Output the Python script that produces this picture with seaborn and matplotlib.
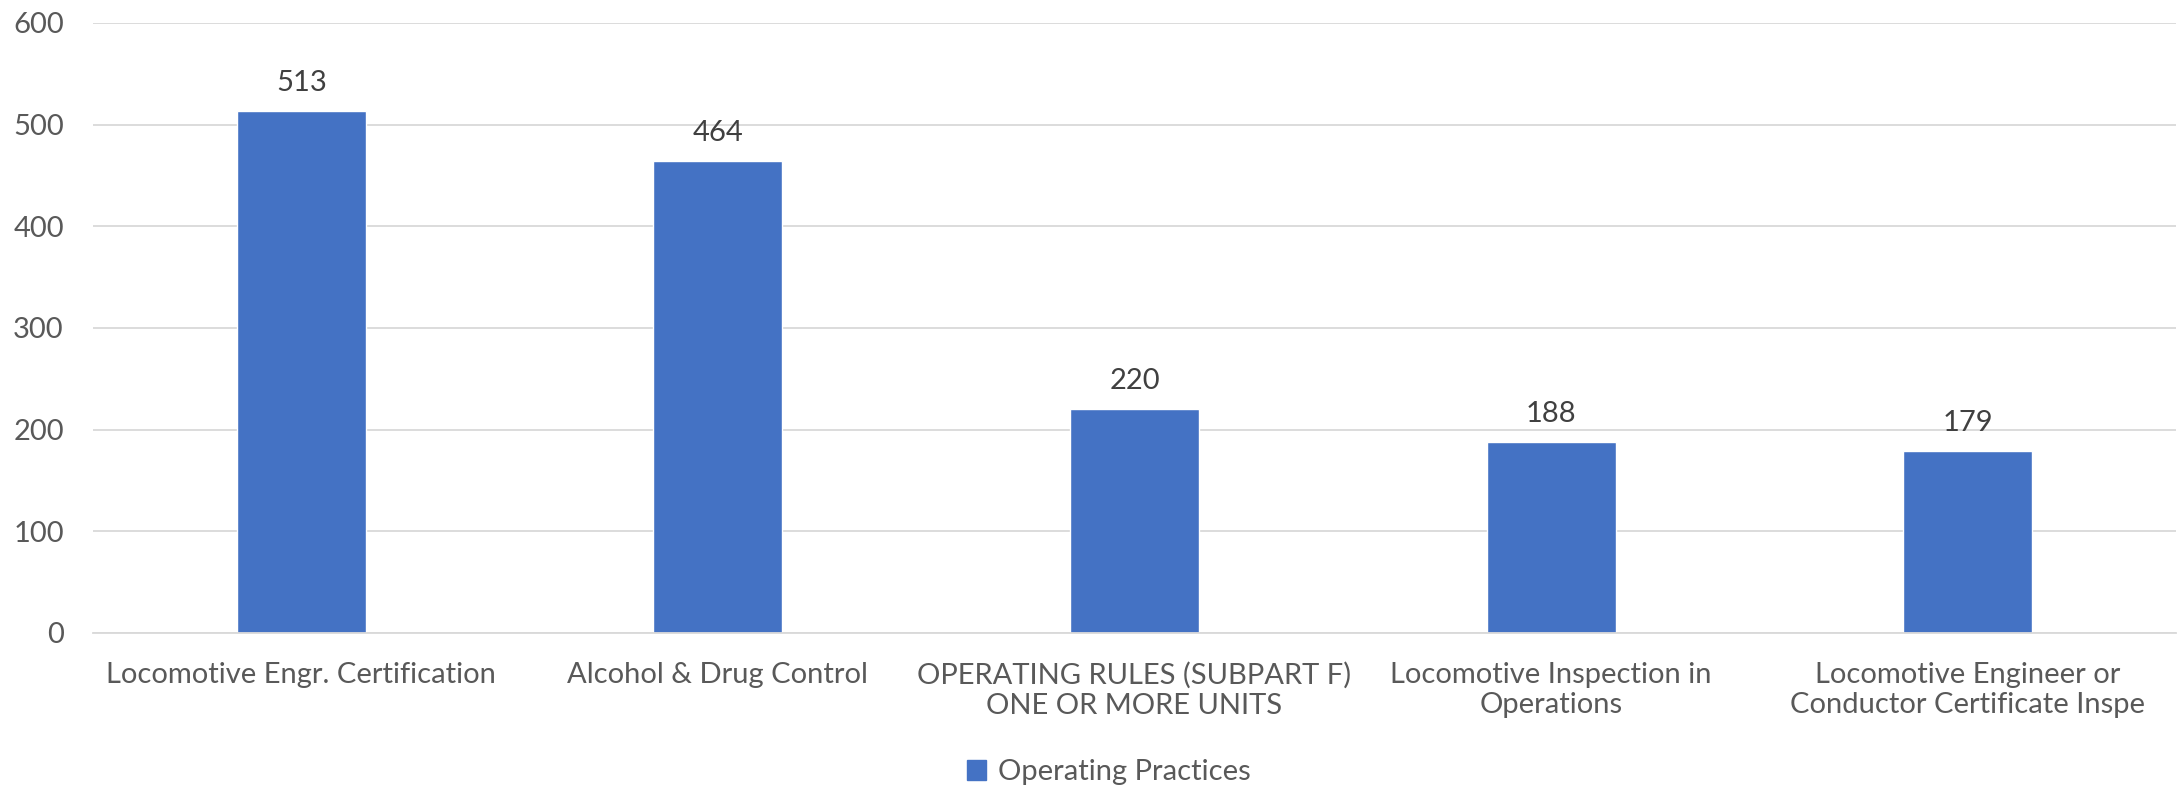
import matplotlib.pyplot as plt
import seaborn as sns
import pandas as pd

# values
categories = ['Locomotive Engr. Certification',
              'Alcohol & Drug Control',
              'OPERATING RULES (SUBPART F)\nONE OR MORE UNITS',
              'Locomotive Inspection in\nOperations',
              'Locomotive Engineer or\nConductor Certificate Inspe']
counts = [513, 464, 220, 188, 179]
series_name = 'Operating Practices'
y_ticks = [0, 100, 200, 300, 400, 500, 600]

df = pd.DataFrame({'Category': categories, 'Count': counts})

sns.set_theme(style='white')
plt.rcParams['font.family'] = ['Lato', 'DejaVu Sans']

bar_color = '#4472C4'
text_gray = '#595959'

fig = plt.figure(figsize=(21.83, 7.92), dpi=100)
ax = fig.add_axes([0.0426, 0.2008, 0.9542, 0.7702])

sns.barplot(x='Category', y='Count', data=df, color=bar_color, width=0.31,
            saturation=1, ax=ax, label=series_name)

ax.set_ylim(0, 600)
ax.set_yticks(y_ticks)
ax.set_xlim(-0.5, len(categories) - 0.5)
ax.yaxis.grid(True, color='#D9D9D9', linewidth=1.3)
ax.set_axisbelow(True)
for side in ['top', 'right', 'left']:
    ax.spines[side].set_visible(False)
ax.spines['bottom'].set_color('#D9D9D9')
ax.spines['bottom'].set_linewidth(1.3)

ax.set_xlabel('')
ax.set_ylabel('')
ax.tick_params(axis='y', length=0, pad=21, labelsize=21, labelcolor=text_gray)
ax.tick_params(axis='x', length=0, pad=21, labelsize=21, labelcolor=text_gray)

# value labels above each bar
ax.bar_label(ax.containers[0], labels=[str(v) for v in counts], padding=11,
             fontsize=21, color='#404040')

if ax.get_legend() is not None:
    ax.get_legend().remove()
handles = [plt.Rectangle((0, 0), 1, 1, color=bar_color)]
fig.legend(handles, [series_name], loc='center', bbox_to_anchor=(0.508, 0.025),
           frameon=False, fontsize=21, labelcolor=text_gray,
           handlelength=0.65, handleheight=0.65, handletextpad=0.4)

plt.savefig('out.png', dpi=100)
